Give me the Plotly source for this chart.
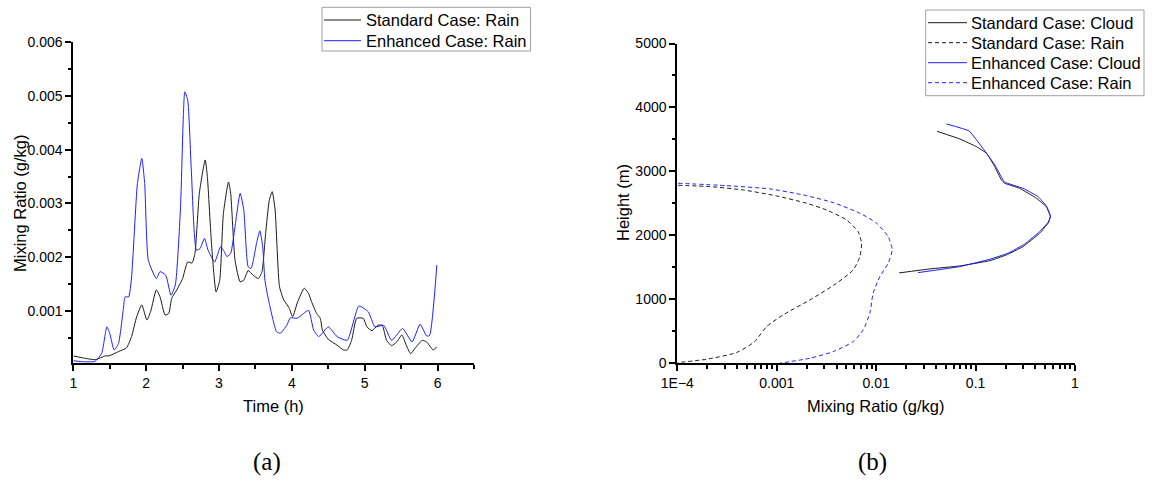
import plotly.graph_objects as go

# ---------------- data: panel (a) ----------------
time_std = [1.00, 1.14, 1.30, 1.44, 1.49, 1.62, 1.73, 1.80, 1.87, 1.94, 2.01, 2.06, 2.14, 2.19,
            2.26, 2.31, 2.35, 2.42, 2.50, 2.57, 2.63, 2.67, 2.73, 2.81, 2.84, 2.90, 2.96, 3.01,
            3.06, 3.13, 3.16, 3.22, 3.29, 3.34, 3.40, 3.47, 3.54, 3.59, 3.64, 3.69, 3.73, 3.77,
            3.83, 3.89, 3.96, 4.01, 4.08, 4.17, 4.23, 4.27, 4.34, 4.39, 4.42, 4.50, 4.62, 4.71,
            4.76, 4.82, 4.89, 4.98, 5.03, 5.10, 5.18, 5.24, 5.30, 5.37, 5.44, 5.51, 5.57, 5.63,
            5.69, 5.79, 5.85, 5.94, 5.99]
rain_std = [0.16, 0.12, 0.09, 0.16, 0.16, 0.24, 0.31, 0.52, 0.89, 1.11, 0.83, 0.98, 1.39, 1.26,
            0.92, 0.95, 1.23, 1.39, 1.60, 1.91, 1.89, 2.07, 3.19, 3.81, 3.50, 2.19, 1.35, 1.57,
            2.81, 3.40, 3.19, 1.94, 1.54, 1.57, 1.75, 1.66, 1.60, 1.73, 2.44, 3.06, 3.22, 2.88,
            1.45, 1.20, 1.06, 0.89, 1.17, 1.42, 1.32, 1.17, 0.95, 0.86, 0.64, 0.47, 0.36, 0.27,
            0.27, 0.45, 0.86, 0.86, 0.70, 0.63, 0.73, 0.73, 0.45, 0.35, 0.42, 0.55, 0.36, 0.20,
            0.30, 0.45, 0.42, 0.27, 0.33]

time_enh = [1.00, 1.14, 1.30, 1.39, 1.46, 1.50, 1.56, 1.62, 1.69, 1.71, 1.76, 1.80, 1.88, 1.94,
            1.98, 2.03, 2.14, 2.19, 2.27, 2.34, 2.40, 2.47, 2.51, 2.53, 2.57, 2.62, 2.69, 2.74,
            2.80, 2.85, 2.94, 3.02, 3.06, 3.11, 3.16, 3.22, 3.29, 3.34, 3.40, 3.44, 3.52, 3.56,
            3.60, 3.63, 3.68, 3.79, 3.84, 3.93, 3.98, 4.07, 4.16, 4.23, 4.30, 4.37, 4.50, 4.62,
            4.76, 4.92, 5.05, 5.14, 5.26, 5.37, 5.52, 5.65, 5.76, 5.85, 5.89, 5.99]
rain_enh = [0.07, 0.05, 0.06, 0.21, 0.70, 0.58, 0.27, 0.39, 1.07, 1.26, 1.26, 1.63, 3.37, 3.84,
            3.37, 1.94, 1.60, 1.73, 1.66, 1.29, 1.48, 2.88, 4.61, 5.08, 4.93, 3.62, 2.13, 2.16,
            2.35, 2.13, 1.91, 2.19, 2.13, 2.01, 2.07, 2.57, 3.19, 2.88, 1.82, 1.79, 2.29, 2.49,
            2.19, 1.57, 1.20, 0.61, 0.58, 0.73, 0.87, 0.86, 0.95, 1.01, 0.64, 0.52, 0.70, 0.52,
            0.45, 1.09, 0.98, 0.70, 0.73, 0.45, 0.67, 0.42, 0.75, 0.53, 0.54, 1.85]
rain_std = [v * 0.001 for v in rain_std]
rain_enh = [v * 0.001 for v in rain_enh]

# ---------------- data: panel (b) ----------------
std_cloud_x = [0.0170, 0.0347, 0.0693, 0.139, 0.204, 0.300, 0.441, 0.535, 0.566, 0.515, 0.409,
               0.278, 0.196, 0.182, 0.156, 0.129, 0.102, 0.0693, 0.0410]
std_cloud_h = [1414, 1477, 1523, 1606, 1695, 1825, 2034, 2191, 2294, 2450, 2581,
               2737, 2816, 2867, 3075, 3284, 3388, 3508, 3628]

std_rain_x = [1.02e-4, 2.13e-4, 4.6e-4, 9.98e-4, 2.0e-3, 3.17e-3, 5.04e-3, 6.59e-3, 7.13e-3,
              6.86e-3, 5.87e-3, 4.0e-3, 2.16e-3, 1.16e-3, 7.9e-4, 6.0e-4, 3.95e-4, 1.97e-4, 1.0e-4]
std_rain_h = [2784, 2763, 2711, 2617, 2503, 2398, 2242, 2059, 1878,
              1669, 1461, 1253, 992, 758, 575, 341, 170, 65, 12]

enh_cloud_x = [0.0264, 0.0693, 0.139, 0.212, 0.312, 0.441, 0.544, 0.566, 0.515, 0.425, 0.300,
               0.196, 0.189, 0.156, 0.129, 0.0861, 0.0509]
enh_cloud_h = [1419, 1513, 1628, 1722, 1867, 2060, 2216, 2305, 2461, 2606, 2737,
               2831, 2867, 3102, 3284, 3633, 3742]

enh_rain_x = [1.02e-4, 3.13e-4, 8.55e-4, 1.85e-3, 3.70e-3, 6.86e-3, 1.01e-2, 1.32e-2, 1.45e-2,
              1.32e-2, 1.09e-2, 9.33e-3, 8.64e-3, 7.40e-3, 5.87e-3, 3.70e-3, 2.16e-3, 1.08e-3]
enh_rain_h = [2816, 2778, 2727, 2633, 2513, 2347, 2191, 1981, 1773,
              1566, 1356, 1097, 784, 523, 341, 185, 81, 3]

log_tickvals = [1e-4, 1e-3, 1e-2, 1e-1, 1]
log_ticktext = ["1E\u22124", "0.001", "0.01", "0.1", "1"]
log_minor = [k * 10 ** d for d in range(-4, 0) for k in range(2, 10)]

legend_a_names = ["Standard Case: Rain", "Enhanced Case: Rain"]
legend_b_names = ["Standard Case: Cloud", "Standard Case: Rain",
                  "Enhanced Case: Cloud", "Enhanced Case: Rain"]

# ---------------- styling ----------------
W, H = 1159, 481
FONT = "Liberation Sans, Arial, sans-serif"
BLACK = "#1a1a1a"
BLUE = "#1f1fff"
DASH = "4px,3px"

fig = go.Figure()

def line_style(color, dash="solid", smoothing=0.5):
    return dict(color=color, width=1, dash=dash, shape="spline", smoothing=smoothing)

styles_a = [line_style(BLACK), line_style(BLUE)]
styles_b = [line_style(BLACK, smoothing=0.3), line_style(BLACK, DASH, 0.6),
            line_style(BLUE, smoothing=0.3), line_style(BLUE, DASH, 0.6)]

fig.add_trace(go.Scatter(x=time_std, y=rain_std, mode="lines", name=legend_a_names[0],
                         line=styles_a[0], xaxis="x", yaxis="y", showlegend=False))
fig.add_trace(go.Scatter(x=time_enh, y=rain_enh, mode="lines", name=legend_a_names[1],
                         line=styles_a[1], xaxis="x", yaxis="y", showlegend=False))

series_b = [(std_cloud_x, std_cloud_h), (std_rain_x, std_rain_h),
            (enh_cloud_x, enh_cloud_h), (enh_rain_x, enh_rain_h)]
for (xs, hs), name, st in zip(series_b, legend_b_names, styles_b):
    fig.add_trace(go.Scatter(x=xs, y=hs, mode="lines", name=name, line=st,
                             xaxis="x2", yaxis="y2", showlegend=False))

axis_common = dict(showline=True, linecolor="black", linewidth=2, ticks="outside",
                   ticklen=6, tickwidth=2, tickcolor="black", showgrid=False, zeroline=False,
                   tickfont=dict(family=FONT, size=14, color="black"), automargin=False)
minor_common = dict(ticks="outside", ticklen=3.5, tickwidth=2, tickcolor="black", showgrid=False)

def px_x(p):
    return p / W

def px_y(p):
    return 1 - p / H

fig.update_layout(
    width=W, height=H,
    margin=dict(l=0, r=0, t=0, b=0),
    paper_bgcolor="white", plot_bgcolor="white",
    font=dict(family=FONT, color="black"),
    showlegend=False,
    xaxis=dict(domain=[px_x(73.3), px_x(474)], range=[1, 6.5], dtick=1, tick0=1,
               anchor="y", minor=dict(dtick=0.5, **minor_common), **axis_common),
    yaxis=dict(domain=[px_y(363.4), px_y(42.4)], range=[0.00002, 0.006], dtick=0.001, tick0=0,
               tickformat=".3f", anchor="x", minor=dict(dtick=0.0005, **minor_common), **axis_common),
    xaxis2=dict(domain=[px_x(677.3), px_x(1075)], type="log", range=[-4, 0],
                tickvals=log_tickvals, ticktext=log_ticktext, anchor="y2",
                minor=dict(tickvals=log_minor, **minor_common), **axis_common),
    yaxis2=dict(domain=[px_y(363.4), px_y(43.5)], range=[0, 5000], dtick=1000, tick0=0,
                anchor="x2", minor=dict(dtick=500, **minor_common), **axis_common),
)

# ---------------- legends (box, line samples, real text labels) ----------------
LEG_FONT = dict(family=FONT, size=16.5, color="black")

def draw_legend(box, names, styles, y0, dy, line_x0, line_x1, text_x):
    bx0, by0, bx1, by1 = box
    fig.add_shape(type="rect", xref="paper", yref="paper",
                  x0=px_x(bx0), x1=px_x(bx1), y0=px_y(by1), y1=px_y(by0),
                  line=dict(color="#a0a0a0", width=1), fillcolor="white", layer="above")
    for i, (name, st) in enumerate(zip(names, styles)):
        yc = y0 + i * dy
        fig.add_shape(type="line", xref="paper", yref="paper",
                      x0=px_x(line_x0), x1=px_x(line_x1), y0=px_y(yc), y1=px_y(yc),
                      line=dict(color=st["color"], width=1, dash=st["dash"]), layer="above")
        fig.add_annotation(text=name, xref="paper", yref="paper", x=px_x(text_x), y=px_y(yc),
                           xanchor="left", yanchor="middle", showarrow=False, font=LEG_FONT)

draw_legend((322, 7.3, 530.5, 51), legend_a_names, styles_a, 20, 20.7, 324, 361, 364)
draw_legend((925.7, 10, 1144, 95.7), legend_b_names, styles_b, 22.7, 20, 928, 967, 968.5)

# ---------------- axis titles and panel labels ----------------
title_font = dict(family=FONT, size=16.5, color="black")
annos = [
    dict(text="Time (h)", x=px_x(273.7), y=px_y(406), font=title_font),
    dict(text="Mixing Ratio (g/kg)", x=px_x(876), y=px_y(406), font=title_font),
    dict(text="Mixing Ratio (g/kg)", x=px_x(20), y=px_y(203), textangle=-90, font=title_font),
    dict(text="Height (m)", x=px_x(623), y=px_y(203), textangle=-90, font=title_font),
    dict(text="(a)", x=px_x(267), y=px_y(462),
         font=dict(family="Liberation Serif, Times New Roman, serif", size=25, color="black")),
    dict(text="(b)", x=px_x(872), y=px_y(462),
         font=dict(family="Liberation Serif, Times New Roman, serif", size=25, color="black")),
]
for a in annos:
    fig.add_annotation(xref="paper", yref="paper", showarrow=False,
                       xanchor="center", yanchor="middle", **a)

fig.write_html("out.html")
